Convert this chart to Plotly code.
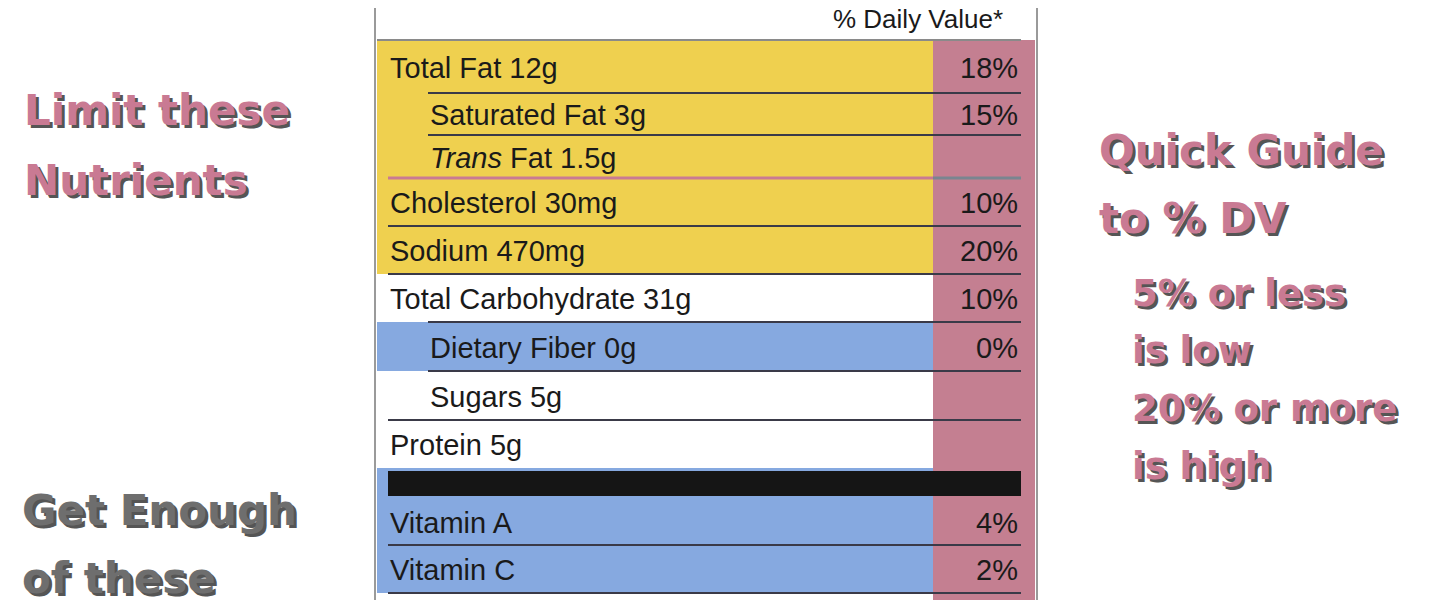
import plotly.graph_objects as go

# nutrition label rows
nutrients = ["Total Fat 12g", "Saturated Fat 3g", "<i>Trans</i> Fat 1.5g", "Cholesterol 30mg",
             "Sodium 470mg", "Total Carbohydrate 31g", "Dietary Fiber 0g", "Sugars 5g",
             "Protein 5g", "", "Vitamin A", "Vitamin C"]
daily_values = ["18%", "15%", "", "10%", "20%", "10%", "0%", "", "", "", "4%", "2%"]
indented = [False, True, True, False, False, False, True, True, False, False, False, False]
groups = ["limit", "limit", "limit", "limit", "limit", "none", "enough", "none", "none", "bar", "enough", "enough"]
row_top = [40, 93, 135, 178, 226, 274, 322, 371, 420, 468, 498, 545]
row_bottom = [93, 135, 178, 226, 274, 322, 371, 420, 468, 498, 545, 593]

YELLOW = "#efd04f"
BLUE = "#86a9e0"
PINK = "#c47f91"
LINE = "#3a3a48"
TXT_PINK = "#c97a93"
LABEL_FONT = dict(size=29, color="#1a1a1a", family="Liberation Sans")

fig = go.Figure()
shapes = []
annotations = []

# label outline
shapes.append(dict(type="rect", x0=375, x1=1037, y0=-5, y1=610, line=dict(color="#9a9a9a", width=2), fillcolor="white", layer="below"))

for i, name in enumerate(nutrients):
    top, bot = row_top[i], row_bottom[i]
    g = groups[i]
    if g in ("limit", "enough", "bar"):
        shapes.append(dict(type="rect", x0=377, x1=933, y0=top, y1=bot,
                           fillcolor=YELLOW if g == "limit" else BLUE, line_width=0, layer="below"))
    if g == "bar":
        shapes.append(dict(type="rect", x0=388, x1=1021, y0=top + 3, y1=bot - 2, fillcolor="#151515", line_width=0))
    x_text = 428 if indented[i] else 388
    if name:
        annotations.append(dict(x=x_text, y=(top + bot) / 2 + 1, text=name, xanchor="left", yanchor="middle",
                                showarrow=False, font=LABEL_FONT))
    if daily_values[i]:
        annotations.append(dict(x=1020, y=(top + bot) / 2 + 1, text=daily_values[i], xanchor="right", yanchor="middle",
                                showarrow=False, font=LABEL_FONT))
    # separator under each row
    if g == "bar" or i == 8:
        continue
    if i == 2:
        shapes.append(dict(type="line", x0=388, x1=933, y0=bot, y1=bot, line=dict(color=TXT_PINK, width=3)))
        shapes.append(dict(type="line", x0=933, x1=1021, y0=bot, y1=bot, line=dict(color="#7a8590", width=3)))
        continue
    x0 = 428 if i in (0, 1, 5, 6) else 388
    shapes.append(dict(type="line", x0=x0, x1=1021, y0=bot, y1=bot, line=dict(color=LINE, width=2)))

# pink daily value column
shapes.append(dict(type="rect", x0=933, x1=1035, y0=40, y1=610, fillcolor=PINK, line_width=0, layer="below"))
shapes.append(dict(type="line", x0=377, x1=1021, y0=40, y1=40, line=dict(color="#8a8a8a", width=2)))
annotations.append(dict(x=1005, y=19, text="% Daily Value*", xanchor="right", yanchor="middle", showarrow=False,
                        font=dict(size=26, color="#1a1a1a", family="Liberation Sans")))

# side captions
side_text = [("Limit these", 22, 110, TXT_PINK, 42), ("Nutrients", 22, 180, TXT_PINK, 42),
             ("Get Enough", 20, 510, "#6e6e6e", 42), ("of these", 20, 578, "#6e6e6e", 42),
             ("Quick Guide", 1097, 150, TXT_PINK, 42), ("to % DV", 1097, 218, TXT_PINK, 42),
             ("5% or less", 1130, 293, TXT_PINK, 37), ("is low", 1130, 350, TXT_PINK, 37),
             ("20% or more", 1130, 408, TXT_PINK, 37), ("is high", 1130, 466, TXT_PINK, 37)]
for t, x, y, c, s in side_text:
    annotations.append(dict(x=x + 3, y=y + 3, text="<b>" + t + "</b>", xanchor="left", yanchor="middle", showarrow=False,
                            font=dict(size=s, color="#555555", family="DejaVu Sans")))
    annotations.append(dict(x=x, y=y, text="<b>" + t + "</b>", xanchor="left", yanchor="middle", showarrow=False,
                            font=dict(size=s, color=c, family="DejaVu Sans")))

fig.update_layout(
    shapes=shapes, annotations=annotations,
    xaxis=dict(range=[8, 1448], visible=False, fixedrange=True),
    yaxis=dict(range=[608, 8], visible=False, fixedrange=True),
    width=1440, height=600, margin=dict(l=0, r=0, t=0, b=0),
    plot_bgcolor="white", paper_bgcolor="white", showlegend=False,
)
fig.write_html("out.html")
